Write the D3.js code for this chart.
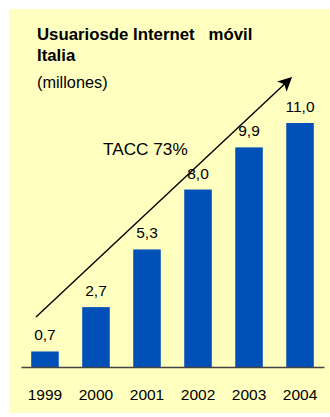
<!DOCTYPE html>
<html>
<head>
<meta charset="utf-8">
<script src="https://cdn.jsdelivr.net/npm/d3@7"></script>
<style>
  html, body { margin: 0; padding: 0; background: #ffffff; }
  svg { display: block; font-family: "Liberation Sans", Arial, sans-serif; }
</style>
</head>
<body>
<svg id="chart" width="330" height="417"></svg>
<script>
// Mobile internet users in Italy, millions
const years = ["1999", "2000", "2001", "2002", "2003", "2004"];
const users = [0.7, 2.7, 5.3, 8.0, 9.9, 11.0];
const valueLabels = ["0,7", "2,7", "5,3", "8,0", "9,9", "11,0"];
const titleLines = ["Usuariosde Internet   móvil", "Italia"];
const unitLabel = "(millones)";
const growthLabel = "TACC 73%";

const svg = d3.select("#chart");

// panel background
svg.append("rect")
  .attr("x", 9).attr("y", 9)
  .attr("width", 321).attr("height", 404)
  .attr("fill", "#ffffc0");

const x = d3.scaleBand()
  .domain(years)
  .range([21, 324])
  .paddingInner(0.46)
  .paddingOuter(0.2);

const baseline = 367;
const y = d3.scaleLinear()
  .domain([0, 11])
  .range([baseline, 123]);

// bars
svg.append("g").selectAll("rect")
  .data(users)
  .join("rect")
  .attr("x", (d, i) => x(years[i]))
  .attr("y", d => y(d))
  .attr("width", x.bandwidth())
  .attr("height", d => baseline - y(d))
  .attr("fill", "#0050b8");

// value labels
svg.append("g").selectAll("text")
  .data(users)
  .join("text")
  .attr("x", (d, i) => x(years[i]) + x.bandwidth() / 2)
  .attr("y", d => y(d) - 11)
  .attr("text-anchor", "middle")
  .attr("font-size", 15.5)
  .attr("fill", "#000")
  .text((d, i) => valueLabels[i]);

// category axis
const xAxis = d3.axisBottom(x).tickSize(0).tickPadding(22);
const gx = svg.append("g")
  .attr("transform", `translate(0,${baseline})`)
  .call(xAxis);
gx.select(".domain").attr("stroke", "#444").attr("stroke-width", 1.3);
gx.selectAll("text")
  .attr("font-size", 15.5)
  .attr("font-family", "Liberation Sans, Arial, sans-serif")
  .attr("fill", "#000");

// title block
svg.append("g").selectAll("text")
  .data(titleLines)
  .join("text")
  .attr("x", 37)
  .attr("y", (d, i) => 40 + i * 21)
  .attr("font-size", 16.8)
  .attr("font-weight", "bold")
  .attr("fill", "#000")
  .attr("xml:space", "preserve")
  .style("white-space", "pre")
  .text(d => d);

svg.append("text")
  .attr("x", 37).attr("y", 88)
  .attr("font-size", 16.3)
  .attr("fill", "#000")
  .text(unitLabel);

// growth arrow
const defs = svg.append("defs");
defs.append("marker")
  .attr("id", "arrowhead")
  .attr("viewBox", "0 0 10 10")
  .attr("refX", 9).attr("refY", 5)
  .attr("markerWidth", 14).attr("markerHeight", 14)
  .attr("markerUnits", "userSpaceOnUse")
  .attr("orient", "auto")
  .append("path")
  .attr("d", "M0,0 L10,5 L0,10 L2.5,5 Z")
  .attr("fill", "#000");

svg.append("line")
  .attr("x1", 36).attr("y1", 317)
  .attr("x2", 291).attr("y2", 78)
  .attr("stroke", "#000")
  .attr("stroke-width", 1.4)
  .attr("marker-end", "url(#arrowhead)");

svg.append("text")
  .attr("x", 103).attr("y", 155)
  .attr("font-size", 17.2)
  .attr("fill", "#000")
  .text(growthLabel);
</script>
</body>
</html>
